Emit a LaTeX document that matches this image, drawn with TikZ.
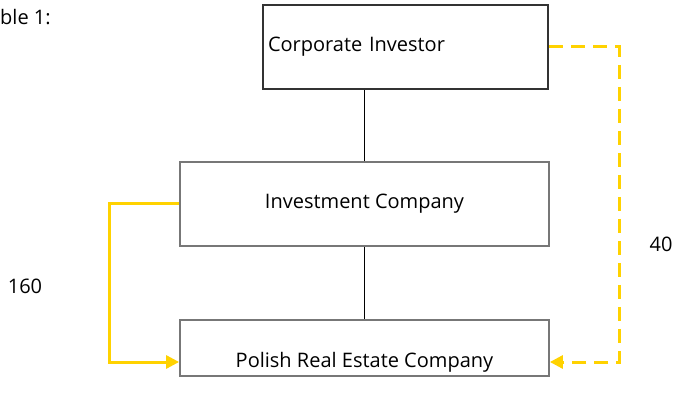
\documentclass[tikz,border=0pt]{standalone}
\usepackage{fontspec}
\setmainfont{Open Sans}
\usetikzlibrary{arrows.meta}
\definecolor{eyyellow}{HTML}{FFD200}
\definecolor{boxgray}{HTML}{777777}
\definecolor{corpgray}{HTML}{333333}
\begin{document}
\begin{tikzpicture}[x=1pt, y=-1pt,
        every node/.style = {font=\fontsize{20}{24}\selectfont},
        entity/.style = {draw = boxgray, line width = 1.8pt, fill = white, minimum width = 369pt},
        flow/.style = {draw = eyyellow, line width = 3pt, -{Triangle[length=13pt, width=13pt]}}]
            \useasboundingbox (0,0) rectangle (678,406);

            %Corporate Investor
            \node [entity, draw = corpgray, line width = 2.6pt, minimum width = 285pt, minimum height = 84pt,
                   text width = 275pt, inner xsep = 5pt, align = left]
            (corp)at(405.5,47){Corporate Investor};
            %Investment Company
            \node [entity, minimum height = 84pt]
            (inv)at(364.5,204){Investment Company};
            %Polish company
            \node [entity, minimum height = 56pt, inner ysep = 0pt, text height = 42pt, text depth = 4pt]
            (pol)at(364.5,348){Polish Real Estate Company};

            %labels
            \node [anchor = base west, inner sep = 0pt]
            (title)at(0,25){ble 1:};
            \node (amt160)at(25,286){160};
            \node (amt40)at(661,244){40};

            \coordinate (polin) at ([yshift=-14pt]pol.west);
            \coordinate (polout) at ([yshift=-14pt]pol.east);

            \draw [line width = 1.3pt](inv.north)--(inv.north |- corp.south);
            \draw [line width = 1.3pt](inv.south)--(pol.north);

            \draw [flow](inv.west)--++(-70,0)|-(polin);
            \draw [flow, dash pattern = on 14pt off 8pt](corp.east)--++(70,0)|-(polout);

        \end{tikzpicture}
\end{document}
